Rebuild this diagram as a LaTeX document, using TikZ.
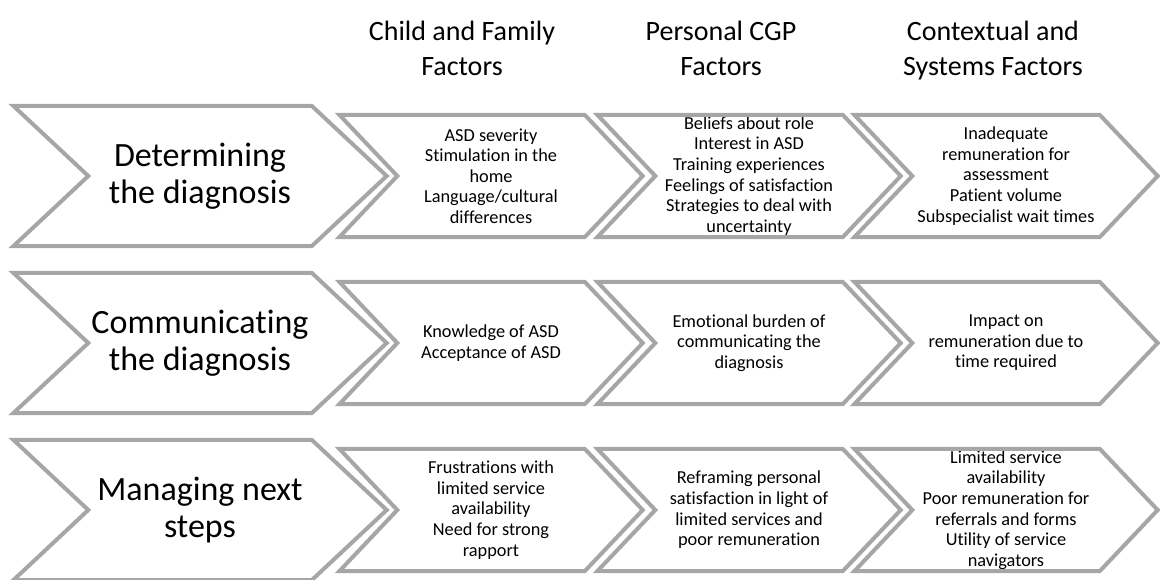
\documentclass[tikz,border=0pt]{standalone}
\usepackage{fontspec}
\setmainfont{Carlito}[Ligatures={NoCommon}]
\usetikzlibrary{positioning}

% chevron outline round a named box: #1 node, #2 depth of point and notch
\newcommand{\chevron}[2]{%
  \draw[rim] (#1.north west) -- ([xshift=-#2]#1.north east) -- (#1.east)
    -- ([xshift=-#2]#1.south east) -- (#1.south west) -- ([xshift=#2]#1.west) -- cycle;}

\begin{document}
\begin{tikzpicture}[x=1pt, y=-1pt, node distance=167pt,
    rim/.style={draw=gray!70, line width=4pt, line join=miter},
    stage/.style={minimum width=373pt, minimum height=140pt, inner sep=0pt, align=center, font=\fontsize{34}{37}\selectfont},
    factor/.style={minimum width=303pt, minimum height=122pt, inner sep=0pt, align=center, font=\fontsize{18.3}{20.6}\selectfont},
    head/.style={anchor=north, inner sep=0pt, align=center, font=\fontsize{28}{35}\selectfont}]
    \useasboundingbox (0,0) rectangle (1160,580);

    % Column headings
    \node[head] (hchild) at (462,21) {Child and Family\\Factors};
    \node[head] (hcgp) at (721,21) {Personal CGP\\Factors};
    \node[head] (hsys) at (993,21) {Contextual and\\Systems Factors};

    % Stages
    \node[stage] (det) at (200,176) {Determining\\the diagnosis};
    \node[stage, below of=det] (com) {Communicating\\the diagnosis};
    \node[stage, below of=com] (man) {Managing next\\steps};

    % Determining the diagnosis
    \node[factor, right of=det, node distance=291pt] (det1) {ASD severity\\Stimulation in the\\home\\Language/cultural\\differences};
    \node[factor, right of=det1, node distance=258pt] (det2) {Beliefs about role\\Interest in ASD\\Training experiences\\Feelings of satisfaction\\Strategies to deal with\\uncertainty};
    \node[factor, right of=det2, node distance=257pt] (det3) {Inadequate\\remuneration for\\assessment\\Patient volume\\Subspecialist wait times};

    % Communicating the diagnosis
    \node[factor, right of=com, node distance=291pt] (com1) {Knowledge of ASD\\Acceptance of ASD};
    \node[factor, right of=com1, node distance=258pt] (com2) {Emotional burden of\\communicating the\\diagnosis};
    \node[factor, right of=com2, node distance=257pt] (com3) {Impact on\\remuneration due to\\time required};

    % Managing next steps
    \node[factor, right of=man, node distance=291pt] (man1) {Frustrations with\\limited service\\availability\\Need for strong\\rapport};
    \node[factor, right of=man1, node distance=258pt] (man2) {Reframing personal\\satisfaction in light of\\limited services and\\poor remuneration};
    \node[factor, right of=man2, node distance=257pt] (man3) {Limited service\\availability\\Poor remuneration for\\referrals and forms\\Utility of service\\navigators};

    % Outlines
    \chevron{det}{75pt}
    \chevron{com}{75pt}
    \chevron{man}{75pt}
    \chevron{det1}{58pt}
    \chevron{det2}{58pt}
    \chevron{det3}{58pt}
    \chevron{com1}{58pt}
    \chevron{com2}{58pt}
    \chevron{com3}{58pt}
    \chevron{man1}{58pt}
    \chevron{man2}{58pt}
    \chevron{man3}{58pt}
\end{tikzpicture}
\end{document}
